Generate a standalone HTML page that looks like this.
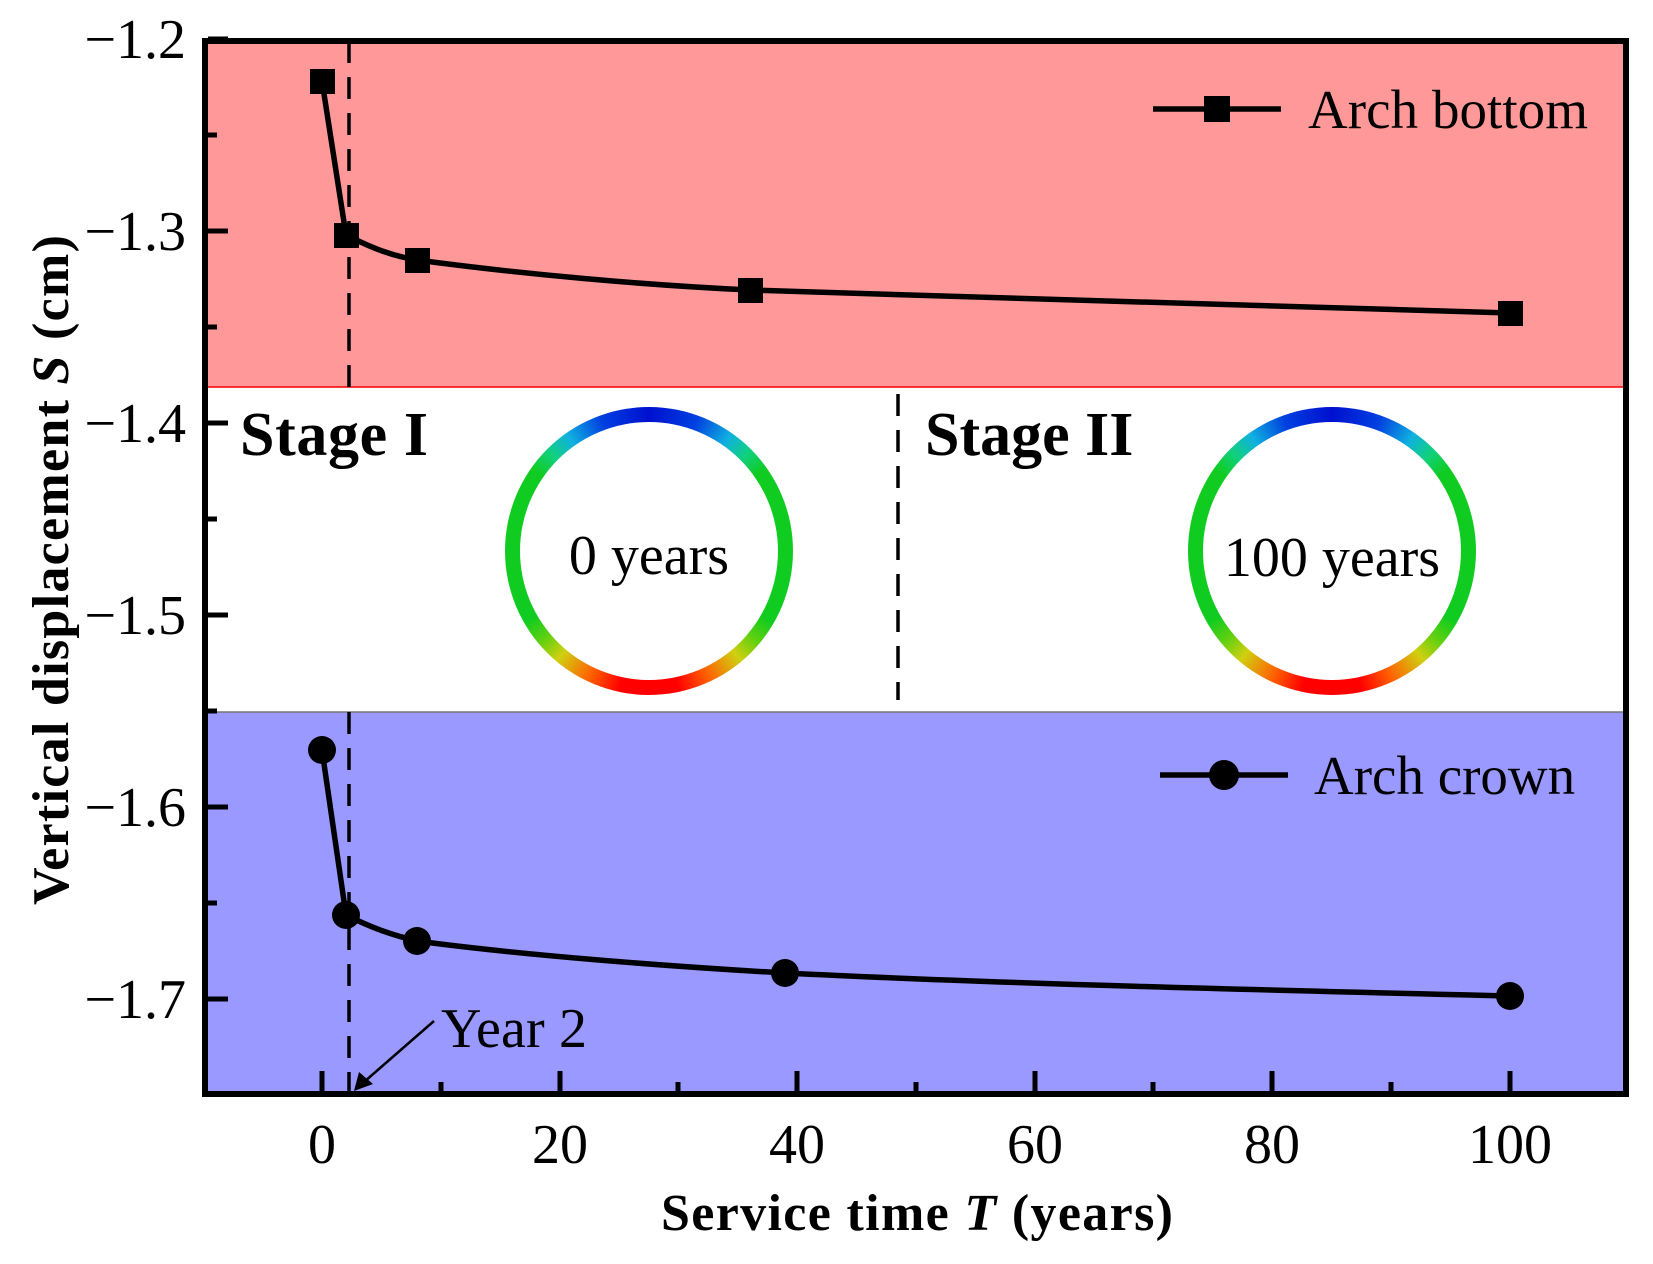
<!DOCTYPE html>
<html><head><meta charset="utf-8"><style>
html,body{margin:0;padding:0;background:#fff;}
svg{display:block;}
text{font-family:"Liberation Serif",serif;fill:#000;}
</style></head><body>
<svg width="1653" height="1264" viewBox="0 0 1653 1264" xmlns="http://www.w3.org/2000/svg">
<defs>
<clipPath id="c"><rect x="205" y="41" width="1421" height="1053"/></clipPath>
</defs>
<rect x="205" y="41" width="1421" height="346" fill="#ff9999"/>
<line x1="205" y1="387" x2="1626" y2="387" stroke="#ff0000" stroke-width="1.5"/>
<rect x="205" y="712" width="1421" height="382" fill="#9999ff"/>
<line x1="205" y1="712" x2="1626" y2="712" stroke="#777" stroke-width="1.5"/>
<line x1="349" y1="41" x2="349" y2="387" stroke="#000" stroke-width="3.5" stroke-dasharray="22,14"/>
<line x1="349" y1="712" x2="349" y2="1094" stroke="#000" stroke-width="3.5" stroke-dasharray="22,14"/>
<line x1="898" y1="394" x2="898" y2="700" stroke="#000" stroke-width="3.5" stroke-dasharray="22,14"/>
<foreignObject x="505" y="407" width="288" height="288">
<div xmlns="http://www.w3.org/1999/xhtml" style="width:288px;height:288px;border-radius:50%;background:conic-gradient(#0010d0 0deg,#0040e0 20deg,#10b0e0 35deg,#10d080 45deg,#10cc20 55deg,#10cc20 120deg,#60d010 130deg,#d0d010 140deg,#ff6000 155deg,#ff0000 168deg,#ff0000 192deg,#ff6000 205deg,#d0d010 220deg,#60d010 230deg,#10cc20 240deg,#10cc20 305deg,#10d080 315deg,#10b0e0 325deg,#0040e0 340deg,#0010d0 360deg);position:relative;">
<div style="position:absolute;left:15px;top:15px;width:258px;height:258px;border-radius:50%;background:#fff;"></div></div>
</foreignObject>
<foreignObject x="1188" y="407" width="288" height="288">
<div xmlns="http://www.w3.org/1999/xhtml" style="width:288px;height:288px;border-radius:50%;background:conic-gradient(#0010d0 0deg,#0040e0 20deg,#10b0e0 35deg,#10d080 45deg,#10cc20 55deg,#10cc20 120deg,#60d010 130deg,#d0d010 140deg,#ff6000 155deg,#ff0000 168deg,#ff0000 192deg,#ff6000 205deg,#d0d010 220deg,#60d010 230deg,#10cc20 240deg,#10cc20 305deg,#10d080 315deg,#10b0e0 325deg,#0040e0 340deg,#0010d0 360deg);position:relative;">
<div style="position:absolute;left:15px;top:15px;width:258px;height:258px;border-radius:50%;background:#fff;"></div></div>
</foreignObject>
<text x="649" y="574" font-size="56" text-anchor="middle">0 years</text>
<text x="1332" y="576" font-size="56" text-anchor="middle">100 years</text>
<text x="240" y="455" font-size="62" font-weight="bold" textLength="188">Stage I</text>
<text x="925" y="455" font-size="62" font-weight="bold">Stage II</text>
<g clip-path="url(#c)" fill="none" stroke="#000" stroke-width="5.5">
<path d="M322,81 L346,235 C372,248 392,256 417,260 C522,274 642,285 750,290 C1002,299 1302,305 1510,313"/>
<path d="M322,750 L346,915 C372,928 392,935 417,941 C522,955 662,966 785,973 C1002,984 1302,991 1510,996"/>
</g>
<g fill="#000">
<rect x="310" y="69" width="25" height="25"/>
<rect x="334" y="223" width="25" height="25"/>
<rect x="405" y="248" width="25" height="25"/>
<rect x="738" y="278" width="25" height="25"/>
<rect x="1498" y="301" width="25" height="25"/>
<circle cx="322" cy="750" r="14"/>
<circle cx="346" cy="915" r="14"/>
<circle cx="417" cy="941" r="14"/>
<circle cx="785" cy="973" r="14"/>
<circle cx="1510" cy="996" r="14"/>
</g>
<line x1="1153" y1="109" x2="1281" y2="109" stroke="#000" stroke-width="5.5"/>
<rect x="1204" y="96" width="26" height="26" fill="#000"/>
<text x="1308" y="128" font-size="55" textLength="280">Arch bottom</text>
<line x1="1160" y1="775" x2="1288" y2="775" stroke="#000" stroke-width="5.5"/>
<circle cx="1224" cy="775" r="15" fill="#000"/>
<text x="1314" y="794" font-size="55">Arch crown</text>
<text x="441" y="1047" font-size="56" textLength="146">Year 2</text>
<line x1="434" y1="1021" x2="364" y2="1082" stroke="#000" stroke-width="2.5"/>
<polygon points="354,1091 359,1072 373,1084" fill="#000"/>
<rect x="205" y="41" width="1421" height="1053" fill="none" stroke="#000" stroke-width="6"/>
<g stroke="#000" stroke-width="5">
<line x1="208" y1="39" x2="228" y2="39"/>
<line x1="208" y1="231" x2="228" y2="231"/>
<line x1="208" y1="423" x2="228" y2="423"/>
<line x1="208" y1="615" x2="228" y2="615"/>
<line x1="208" y1="807" x2="228" y2="807"/>
<line x1="208" y1="999" x2="228" y2="999"/>
<line x1="208" y1="135" x2="217" y2="135"/>
<line x1="208" y1="327" x2="217" y2="327"/>
<line x1="208" y1="519" x2="217" y2="519"/>
<line x1="208" y1="711" x2="217" y2="711"/>
<line x1="208" y1="903" x2="217" y2="903"/>
<line x1="322" y1="1091" x2="322" y2="1071"/>
<line x1="560" y1="1091" x2="560" y2="1071"/>
<line x1="797" y1="1091" x2="797" y2="1071"/>
<line x1="1035" y1="1091" x2="1035" y2="1071"/>
<line x1="1272" y1="1091" x2="1272" y2="1071"/>
<line x1="1510" y1="1091" x2="1510" y2="1071"/>
<line x1="441" y1="1091" x2="441" y2="1082"/>
<line x1="678" y1="1091" x2="678" y2="1082"/>
<line x1="916" y1="1091" x2="916" y2="1082"/>
<line x1="1153" y1="1091" x2="1153" y2="1082"/>
<line x1="1391" y1="1091" x2="1391" y2="1082"/>
</g>
<g font-size="56" text-anchor="end">
<text x="186" y="58">−1.2</text>
<text x="186" y="250">−1.3</text>
<text x="186" y="442">−1.4</text>
<text x="186" y="634">−1.5</text>
<text x="186" y="826">−1.6</text>
<text x="186" y="1018">−1.7</text>
</g>
<g font-size="56" text-anchor="middle">
<text x="322" y="1163">0</text>
<text x="560" y="1163">20</text>
<text x="797" y="1163">40</text>
<text x="1035" y="1163">60</text>
<text x="1272" y="1163">80</text>
<text x="1510" y="1163">100</text>
</g>
<text x="917" y="1230" font-size="52" font-weight="bold" text-anchor="middle" textLength="512">Service time <tspan font-style="italic">T</tspan> (years)</text>
<text transform="translate(68,570) rotate(-90)" font-size="52" font-weight="bold" text-anchor="middle" textLength="670">Vertical displacement <tspan font-style="italic">S</tspan> (cm)</text>
</svg>
</body></html>
